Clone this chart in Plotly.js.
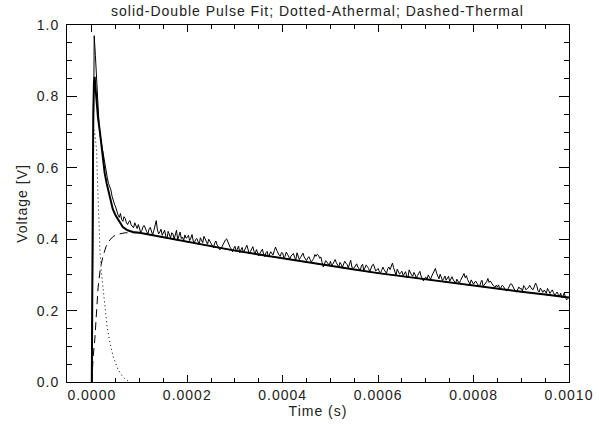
<!DOCTYPE html>
<html>
<head>
<meta charset="utf-8">
<script src="https://cdn.plot.ly/plotly-3.0.1.min.js"></script>
<style>
html,body{margin:0;padding:0;background:#fff;}
#chart{width:599px;height:434px;}
#chart text{letter-spacing:1px;}
</style>
</head>
<body>
<div id="chart"></div>
<script>
// Measured signal: uniform sampling grid
var dataStart = 0;
var dataStep = 0.0000025;
var dataV = [
0.000,0.480,0.970,0.915,0.845,0.780,0.725,0.690,0.668,0.648,0.625,0.603,0.590,0.572,0.556,0.549,0.538,0.520,0.505,0.498,
0.490,0.476,0.468,0.461,0.472,0.455,0.450,0.463,0.458,0.446,0.441,0.449,0.452,0.440,0.437,0.432,0.446,0.438,0.430,0.441,
0.432,0.419,0.425,0.436,0.438,0.427,0.421,0.414,0.429,0.433,0.418,0.412,0.424,0.440,0.452,0.426,0.415,0.420,0.428,0.411,
0.418,0.425,0.409,0.401,0.422,0.410,0.404,0.418,0.415,0.400,0.410,0.425,0.398,0.407,0.420,0.402,0.406,0.396,0.412,0.403,
0.405,0.411,0.396,0.403,0.413,0.395,0.390,0.399,0.402,0.394,0.385,0.404,0.398,0.390,0.408,0.399,0.391,0.386,0.400,0.393,
0.388,0.381,0.376,0.389,0.395,0.384,0.380,0.371,0.372,0.378,0.386,0.392,0.398,0.401,0.392,0.383,0.377,0.372,0.365,0.374,
0.380,0.368,0.372,0.381,0.362,0.370,0.377,0.363,0.368,0.376,0.383,0.370,0.359,0.366,0.372,0.379,0.366,0.360,0.371,0.363,
0.353,0.361,0.368,0.372,0.358,0.351,0.362,0.366,0.350,0.357,0.365,0.359,0.356,0.368,0.378,0.369,0.360,0.355,0.352,0.363,
0.361,0.347,0.352,0.364,0.358,0.351,0.345,0.353,0.356,0.360,0.349,0.342,0.362,0.354,0.343,0.349,0.355,0.361,0.350,0.344,
0.340,0.347,0.351,0.343,0.336,0.341,0.346,0.357,0.352,0.358,0.355,0.347,0.350,0.335,0.322,0.330,0.340,0.336,0.331,0.327,
0.338,0.326,0.330,0.339,0.343,0.334,0.326,0.322,0.335,0.330,0.321,0.328,0.338,0.333,0.329,0.320,0.334,0.341,0.322,0.318,
0.320,0.326,0.331,0.322,0.316,0.313,0.325,0.330,0.312,0.319,0.328,0.323,0.318,0.309,0.322,0.327,0.330,0.316,0.311,0.314,
0.318,0.309,0.306,0.313,0.322,0.315,0.310,0.304,0.317,0.322,0.315,0.327,0.333,0.320,0.305,0.299,0.316,0.310,0.302,0.307,
0.310,0.298,0.302,0.309,0.296,0.292,0.314,0.305,0.300,0.296,0.307,0.301,0.291,0.298,0.304,0.310,0.297,0.289,0.283,0.291,
0.294,0.287,0.300,0.293,0.288,0.297,0.305,0.311,0.318,0.305,0.296,0.289,0.302,0.294,0.284,0.290,0.297,0.285,0.289,0.296,
0.282,0.288,0.295,0.286,0.280,0.277,0.288,0.283,0.276,0.284,0.291,0.296,0.304,0.292,0.298,0.287,0.281,0.274,0.286,0.279,
0.274,0.280,0.282,0.276,0.271,0.266,0.279,0.285,0.268,0.273,0.276,0.281,0.290,0.279,0.283,0.277,0.272,0.268,0.265,0.271,
0.266,0.272,0.259,0.264,0.271,0.268,0.262,0.257,0.255,0.263,0.268,0.275,0.274,0.266,0.260,0.254,0.252,0.259,0.266,0.261,
0.262,0.255,0.270,0.265,0.258,0.262,0.264,0.271,0.266,0.260,0.259,0.268,0.277,0.270,0.256,0.252,0.263,0.258,0.251,0.257,
0.255,0.248,0.262,0.256,0.248,0.253,0.258,0.250,0.243,0.247,0.252,0.245,0.240,0.249,0.236,0.241,0.249,0.238,0.230,0.234,
0.238
];

// Double pulse fit (solid)
var fitT = [0,1e-6,2e-6,3e-6,4.5e-6,6e-6,8e-6,1e-5,1.3e-5,1.7e-5,2e-5,2.3e-5,2.7e-5,3.1e-5,3.5e-5,3.8e-5,4.4e-5,5e-5,5.5e-5,6e-5,6.5e-5,7.5e-5,8.6e-5,
1e-4,1.5e-4,2e-4,2.5e-4,3e-4,3.5e-4,4e-4,4.5e-4,5e-4,5.5e-4,6e-4,6.5e-4,7e-4,7.5e-4,8e-4,8.5e-4,9e-4,9.5e-4,1e-3];
var fitV = [0,0.30,0.58,0.75,0.84,0.855,0.82,0.78,0.74,0.70,0.66,0.622,0.585,0.557,0.535,0.518,0.484,0.466,0.454,0.443,0.434,0.425,0.420,
0.418,0.405,0.392,0.380,0.368,0.357,0.346,0.335,0.325,0.315,0.305,0.296,0.287,0.278,0.269,0.261,0.253,0.245,0.237];

// Athermal component (dotted)
var athT = [0,1e-6,2e-6,3e-6,4e-6,6e-6,8e-6,1e-5,1.1e-5,1.3e-5,1.5e-5,1.7e-5,2e-5,2.4e-5,2.8e-5,3.2e-5,3.8e-5,4.5e-5,5.5e-5,6.5e-5,7.3e-5,8e-5];
var athV = [0,0.25,0.52,0.67,0.706,0.70,0.68,0.65,0.60,0.50,0.42,0.37,0.31,0.255,0.20,0.155,0.11,0.07,0.035,0.014,0.005,0];

// Thermal component (dashed)
var thT = [0,1e-6,2.8e-6,6.3e-6,9.9e-6,1.32e-5,1.8e-5,2.4e-5,3e-5,3.8e-5,4.5e-5,5.5e-5,7e-5,8.5e-5,
1e-4,1.5e-4,2e-4,2.5e-4,3e-4,3.5e-4,4e-4,4.5e-4,5e-4,5.5e-4,6e-4,6.5e-4,7e-4,7.5e-4,8e-4,8.5e-4,9e-4,9.5e-4,1e-3];
var thV = [0,0.03,0.07,0.12,0.19,0.265,0.32,0.355,0.38,0.398,0.408,0.414,0.418,0.419,
0.418,0.405,0.392,0.380,0.368,0.357,0.346,0.335,0.325,0.315,0.305,0.296,0.287,0.278,0.269,0.261,0.253,0.245,0.237];

var xTickVals = [0,0.0002,0.0004,0.0006,0.0008,0.0010];
var xTickText = ['0.0000','0.0002','0.0004','0.0006','0.0008','0.0010'];
var yTickVals = [0,0.2,0.4,0.6,0.8,1.0];
var yTickText = ['0.0','0.2','0.4','0.6','0.8','1.0'];

var dataT = dataV.map(function(v,i){return dataStart + i*dataStep;});

var FONT = '"Liberation Sans", Arial, Helvetica, sans-serif';
var TXT = '#222';
var traces = [
  {x: athT, y: athV, type:'scatter', mode:'lines', line:{color:'#000', width:1, dash:'1px,3px'}, hoverinfo:'skip'},
  {x: thT, y: thV, type:'scatter', mode:'lines', line:{color:'#000', width:1, dash:'8px,5px'}, hoverinfo:'skip'},
  {x: dataT, y: dataV, type:'scatter', mode:'lines', line:{color:'#000', width:1}, hoverinfo:'skip'},
  {x: fitT, y: fitV, type:'scatter', mode:'lines', line:{color:'#000', width:2}, hoverinfo:'skip'}
];

var layout = {
  width: 599, height: 434,
  margin: {l:67, r:30, t:25, b:52, pad:0},
  paper_bgcolor:'#fff', plot_bgcolor:'#fff',
  showlegend:false,
  font:{family:FONT, size:14, color:TXT},
  title:{text:'solid-Double Pulse Fit; Dotted-Athermal; Dashed-Thermal', font:{family:FONT,size:14,color:TXT}, x:0.53, xanchor:'center', y:0.975, yanchor:'middle'},
  xaxis:{
    range:[-0.000052, 0.001],
    tickvals:xTickVals, ticktext:xTickText,
    ticks:'inside', ticklen:7, tickwidth:1, tickcolor:'#000',
    minor:{dtick:0.00005, tick0:0, ticks:'inside', ticklen:4, tickwidth:1, tickcolor:'#000'},
    showline:true, linecolor:'#000', linewidth:1, mirror:'ticks',
    showgrid:false, zeroline:false,
    tickfont:{family:FONT,size:14,color:TXT},
    title:{text:'Time (s)', font:{family:FONT,size:14,color:TXT}, standoff:4}
  },
  yaxis:{
    range:[0, 1],
    tickvals:yTickVals, ticktext:yTickText,
    ticks:'inside', ticklen:10, tickwidth:1, tickcolor:'#000',
    ticklabelstandoff:4,
    minor:{dtick:0.05, tick0:0, ticks:'inside', ticklen:5, tickwidth:1, tickcolor:'#000'},
    showline:true, linecolor:'#000', linewidth:1, mirror:'ticks',
    showgrid:false, zeroline:false,
    tickfont:{family:FONT,size:14,color:TXT},
    title:{text:'Voltage [V]', font:{family:FONT,size:14,color:TXT}, standoff:8}
  }
};

Plotly.newPlot('chart', traces, layout, {displayModeBar:false, staticPlot:true});
</script>
</body>
</html>
